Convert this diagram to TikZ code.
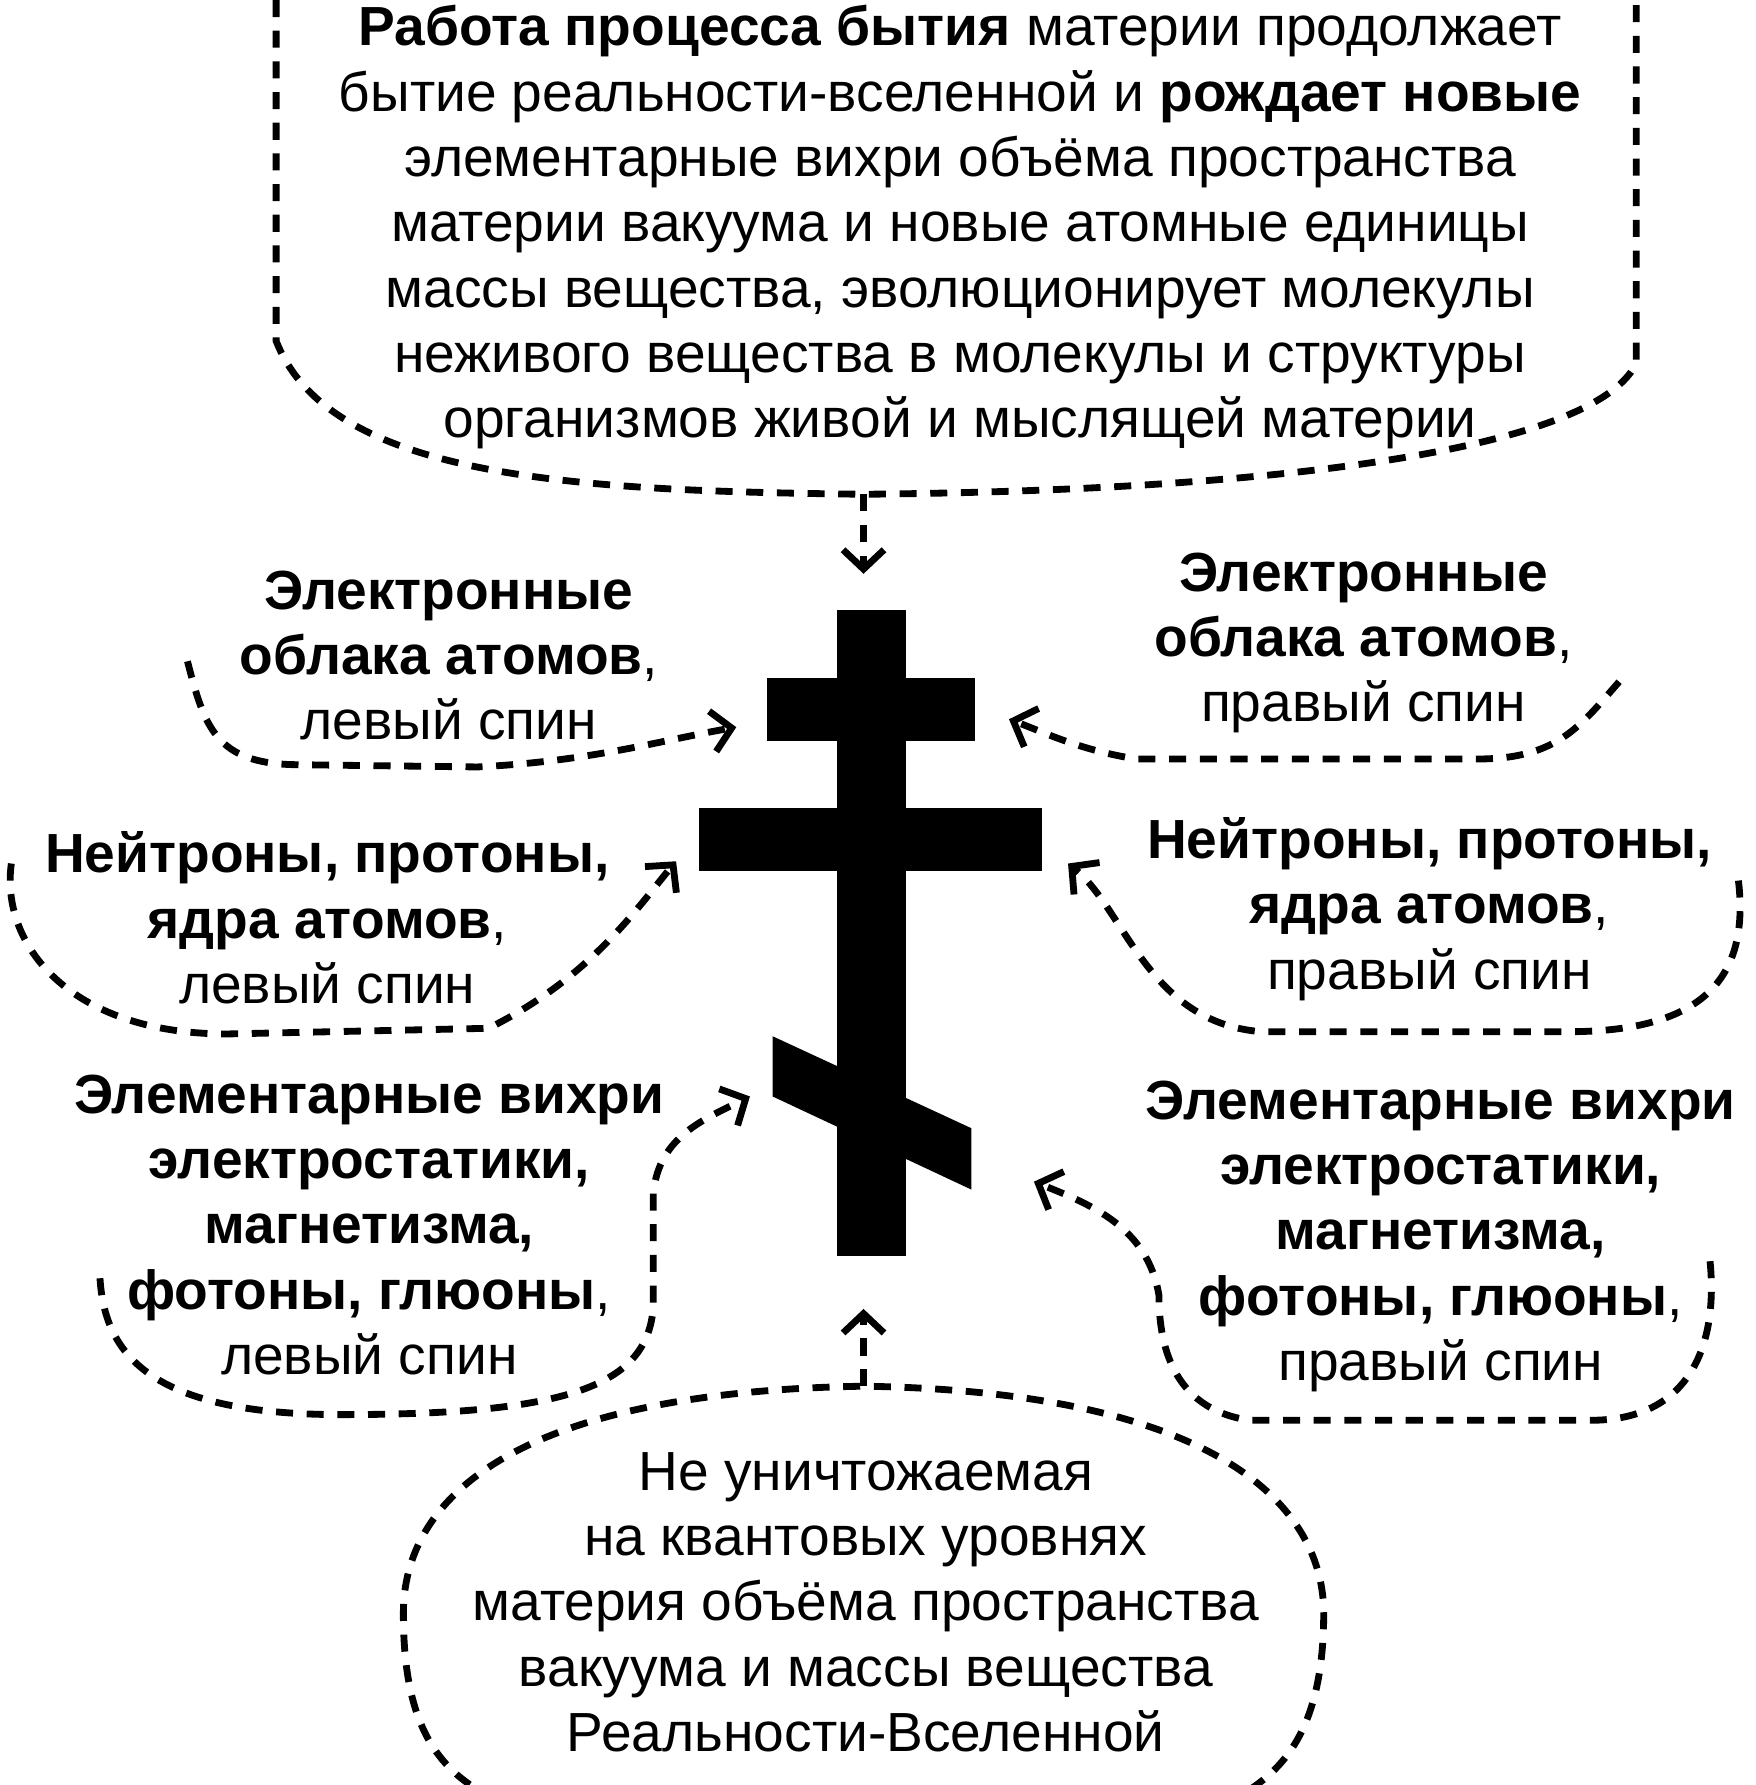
\documentclass[tikz,border=0pt]{standalone}
\usepackage{fontspec}
\setmainfont{Liberation Sans}
\usetikzlibrary{arrows.meta}
\begin{document}
\begin{tikzpicture}[x=1pt,y=-1pt,
  txt/.style={align=center,font=\fontsize{48.5}{57.5}\selectfont,inner sep=0},
  dsh/.style={line width=6pt,dash pattern=on 15pt off 12pt},
  arr/.style={dsh,-{Straight Barb[length=17pt,width=36pt,line width=6pt]}},
  crs/.style={fill=black,draw=none}]
\useasboundingbox (0,0) rectangle (1545,1571);
% cross
\fill[crs] (737,537) rectangle (797,1105);
\fill[crs] (675,597) rectangle (858,652);
\fill[crs] (615,711) rectangle (917,767);
\fill[crs] (680,912) -- (855,993) -- (855,1047) -- (680,965) -- cycle;
\coordinate (topc) at (760,435);
\coordinate (topt) at (760,505);
\coordinate (botc) at (760,1220);
\coordinate (bott) at (760,1152);
% top
\node[txt] (top) at (845,200) {\textbf{Работа процесса бытия} материи продолжает\\бытие реальности-вселенной и \textbf{рождает новые}\\элементарные вихри объёма пространства\\материи вакуума и новые атомные единицы\\массы вещества, эволюционирует молекулы\\неживого вещества в молекулы и структуры\\организмов живой и мыслящей материи};
\draw[dsh] (243,0) -- (243,300) .. controls (290,420) and (500,432) .. (topc) .. controls (1100,432) and (1400,400) .. (1440,320) -- (1440,0);
\draw[arr] (topc) -- (topt);
% left top
\node[txt] (lt) at (395,577) {\textbf{Электронные}\\\textbf{облака атомов},\\левый спин};
\coordinate (lt1) at (165,582); \coordinate (ltt) at (648,640);
\draw[arr] (lt1) .. controls (180,640) and (190,672) .. (260,673) -- (420,675) .. controls (520,670) and (580,652) .. (ltt);
% right top
\node[txt] (rt) at (1200,566) {\textbf{Электронные}\\\textbf{облака атомов},\\правый спин};
\coordinate (rt1) at (1425,600); \coordinate (rtt) at (888,633);
\draw[arr] (rt1) .. controls (1390,640) and (1370,668) .. (1300,668) -- (1000,668) .. controls (950,660) and (920,645) .. (rtt);
% mid left
\node[txt] (ml) at (288,808) {\textbf{Нейтроны, протоны,}\\\textbf{ядра атомов},\\левый спин};
\coordinate (ml1) at (10,760); \coordinate (mlt) at (595,758);
\draw[arr] (ml1) .. controls (0,830) and (60,910) .. (200,910) -- (430,905) .. controls (520,860) and (560,800) .. (mlt);
% mid right
\node[txt] (mr) at (1258,800) {\textbf{Нейтроны, протоны,}\\\textbf{ядра атомов},\\правый спин};
\coordinate (mr1) at (1530,775); \coordinate (mrt) at (940,760);
\draw[arr] (mr1) .. controls (1540,860) and (1500,908) .. (1380,908) -- (1110,908) .. controls (1010,900) and (990,800) .. (mrt);
% low left
\node[txt] (ll) at (325,1078) {\textbf{Элементарные вихри}\\\textbf{электростатики,}\\\textbf{магнетизма,}\\\textbf{фотоны, глюоны},\\левый спин};
\coordinate (ll1) at (88,1125); \coordinate (llt) at (660,965);
\draw[arr] (ll1) .. controls (92,1190) and (130,1245) .. (300,1245) .. controls (500,1245) and (570,1220) .. (575,1150) -- (575,1050) .. controls (580,1000) and (620,985) .. (llt);
% low right
\node[txt] (lr) at (1268,1088) {\textbf{Элементарные вихри}\\\textbf{электростатики,}\\\textbf{магнетизма,}\\\textbf{фотоны, глюоны},\\правый спин};
\coordinate (lr1) at (1505,1110); \coordinate (lrt) at (910,1040);
\draw[arr] (lr1) .. controls (1512,1180) and (1490,1250) .. (1400,1250) -- (1100,1250) .. controls (1030,1240) and (1020,1180) .. (1020,1140) .. controls (1010,1080) and (960,1060) .. (lrt);
% bottom
\node[txt] (bt) at (762,1410) {Не уничтожаемая\\на квантовых уровнях\\материя объёма пространства\\вакуума и массы вещества\\Реальности-Вселенной};
\draw[dsh] (1100,1575) .. controls (1130,1555) and (1165,1520) .. (1165,1420) .. controls (1165,1330) and (1080,1225) .. (botc) .. controls (450,1225) and (355,1320) .. (355,1420) .. controls (355,1510) and (380,1550) .. (420,1575);
\draw[arr] (botc) -- (bott);
\end{tikzpicture}
\end{document}
